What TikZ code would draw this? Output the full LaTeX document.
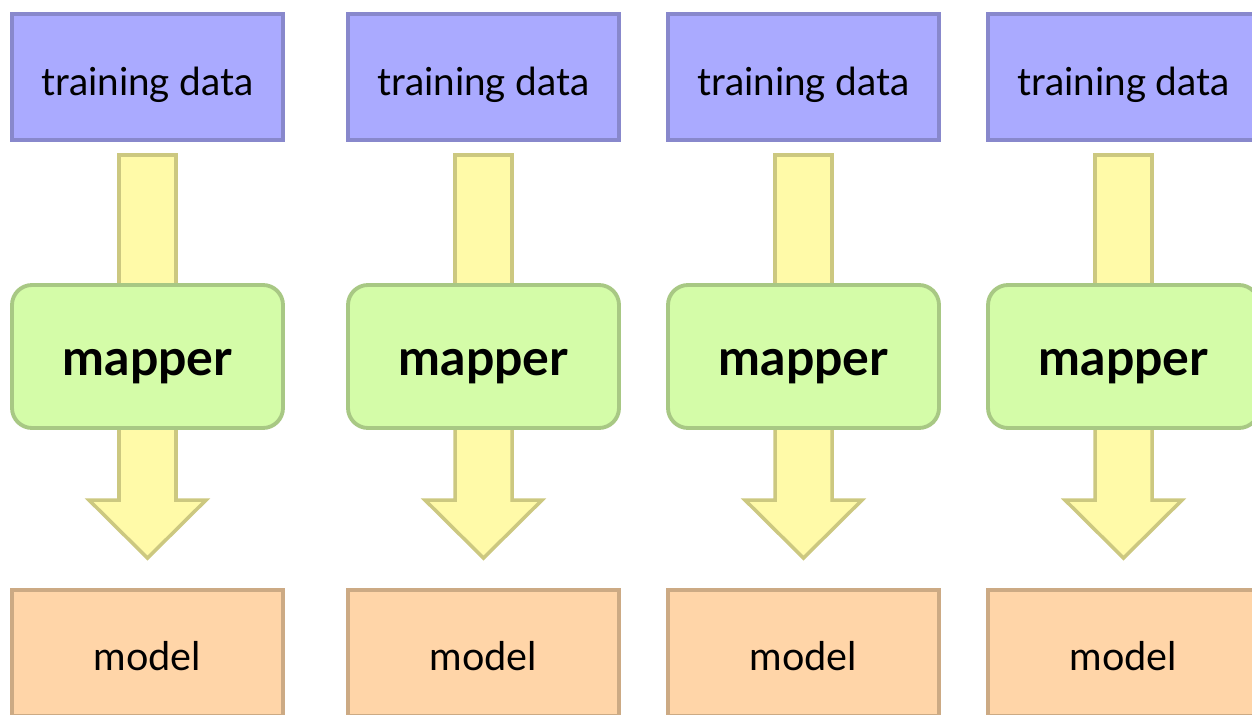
\documentclass[tikz,border=0pt]{standalone}
\usepackage{fontspec}
\usepackage{xcolor}
\usepackage{tikz}
\usetikzlibrary{calc}
\usetikzlibrary{backgrounds}
\setmainfont{Lato}
\definecolor{datafill}{HTML}{AAAAFF}
\definecolor{dataline}{HTML}{8888CC}
\definecolor{mapfill}{HTML}{D4FCA8}
\definecolor{mapline}{HTML}{A8C884}
\definecolor{arrfill}{HTML}{FFFAA8}
\definecolor{arrline}{HTML}{CCC880}
\definecolor{modfill}{HTML}{FFD5A8}
\definecolor{modline}{HTML}{CCAA84}
\tikzstyle{databox} = [draw=dataline, fill=datafill, line width=2.2pt,
rectangle, minimum width=5.42cm, minimum height=2.52cm, text height=21pt,
text depth=0pt, font=\fontsize{22}{26}\selectfont]
\tikzstyle{mapbox} = [draw=mapline, fill=mapfill, line width=2.2pt,
rectangle, rounded corners=0.4cm, minimum width=5.42cm, minimum height=2.86cm,
text height=22pt, text depth=0pt, font=\fontsize{28.5}{32}\selectfont\bfseries]
\tikzstyle{modelbox} = [draw=modline, fill=modfill, line width=2.2pt,
rectangle, minimum width=5.42cm, minimum height=2.52cm, text height=20pt,
text depth=0pt, font=\fontsize{22.5}{26}\selectfont]
\tikzstyle{fatarrow} = [draw=arrline, fill=arrfill, line width=2pt, line join=miter]
% shaft from a data box into the mapper
\newcommand{\feedbar}[2]{%
\draw [fatarrow] ($(#1.south)+(-0.57,-0.26)$) rectangle ($(#2.center)+(0.57,0)$);
}
% arrow from the mapper down to the model
\newcommand{\emitarrow}[2]{%
\draw [fatarrow]
    ($(#1.center)+(-0.57,0)$) -- ($(#2.north)+(-0.57,1.76)$) --
    ($(#2.north)+(-1.17,1.76)$) -- ($(#2.north)+(0,0.6)$) --
    ($(#2.north)+(1.17,1.76)$) -- ($(#2.north)+(0.57,1.76)$) --
    ($(#1.center)+(0.57,0)$) -- cycle;
}

\begin{document}
\begin{tikzpicture}
        \useasboundingbox (0,0) rectangle (25.04,-14.3);
        \clip (0,0) rectangle (25.04,-14.3);
        \node [databox] (data1) at (2.95,-1.54) {training data};
        \node [databox] (data2) at (9.67,-1.54) {training data};
        \node [databox] (data3) at (16.07,-1.54) {training data};
        \node [databox] (data4) at (22.47,-1.54) {training data};
        \node [mapbox] (map1) at (2.95,-7.13) {mapper};
        \node [mapbox] (map2) at (9.67,-7.13) {mapper};
        \node [mapbox] (map3) at (16.07,-7.13) {mapper};
        \node [mapbox] (map4) at (22.47,-7.13) {mapper};
        \node [modelbox] (model1) at (2.95,-13.06) {model};
        \node [modelbox] (model2) at (9.67,-13.06) {model};
        \node [modelbox] (model3) at (16.07,-13.06) {model};
        \node [modelbox] (model4) at (22.47,-13.06) {model};
        \begin{scope}[on background layer]
            \feedbar{data1}{map1} \emitarrow{map1}{model1}
            \feedbar{data2}{map2} \emitarrow{map2}{model2}
            \feedbar{data3}{map3} \emitarrow{map3}{model3}
            \feedbar{data4}{map4} \emitarrow{map4}{model4}
        \end{scope}
    \end{tikzpicture}
\end{document}
